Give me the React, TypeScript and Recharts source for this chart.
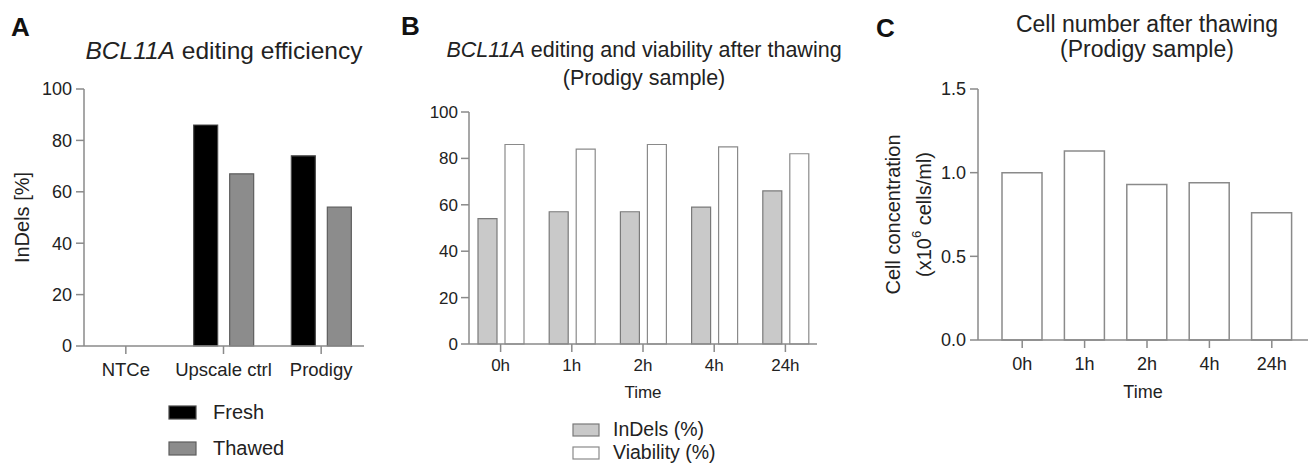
import React from 'react';
import { BarChart, Bar, XAxis, YAxis, Label } from 'recharts';

const FONT = '"Liberation Sans", Arial, Helvetica, sans-serif';
const TEXT = '#222';
const AXIS = '#8a8a8a';

// Panel A: editing efficiency
const editGroups = ['NTCe', 'Upscale ctrl', 'Prodigy'];
const freshIndels = [null, 86, 74];
const thawedIndels = [null, 67, 54];
const percentTicks = [0, 20, 40, 60, 80, 100];

// Panel B: editing + viability after thawing
const thawTimes = ['0h', '1h', '2h', '4h', '24h'];
const prodigyIndels = [54, 57, 57, 59, 66];
const prodigyViability = [86, 84, 86, 85, 82];

// Panel C: cell concentration after thawing
const cellConc = [1.0, 1.13, 0.93, 0.94, 0.76];
const concTicks = [0, 0.5, 1.0, 1.5];

const seriesA = [
  { key: 'fresh', name: 'Fresh', fill: '#000000', stroke: '#4a4a4a' },
  { key: 'thawed', name: 'Thawed', fill: '#8c8c8c', stroke: '#5e5e5e' },
];
const seriesB = [
  { key: 'indels', name: 'InDels (%)', fill: '#c9c9c9', stroke: '#7a7a7a' },
  { key: 'viability', name: 'Viability (%)', fill: '#ffffff', stroke: '#8a8a8a' },
];

const dataA = editGroups.map((group, i) => ({ group, fresh: freshIndels[i], thawed: thawedIndels[i] }));
const dataB = thawTimes.map((time, i) => ({ time, indels: prodigyIndels[i], viability: prodigyViability[i] }));
const dataC = thawTimes.map((time, i) => ({ time, conc: cellConc[i] }));

const axisProps = {
  axisLine: { stroke: AXIS, strokeWidth: 1.5 },
  tickLine: { stroke: AXIS, strokeWidth: 1.5 },
  tickSize: 8,
};

function YTitle(props: any) {
  const { viewBox, lines, offsets, fontSize } = props;
  const cy = viewBox.y + viewBox.height / 2;
  return (
    <g>
      {lines.map((line: React.ReactNode, i: number) => {
        const x = viewBox.x + offsets[i];
        return (
          <text
            key={i}
            x={x}
            y={cy}
            transform={`rotate(-90, ${x}, ${cy})`}
            textAnchor="middle"
            dominantBaseline="central"
            fill={TEXT}
            fontSize={fontSize}
            fontFamily={FONT}
          >
            {line}
          </text>
        );
      })}
    </g>
  );
}

function SwatchLegend({ items, left, top, rowHeight, fontSize, w, h, gap }: any) {
  return (
    <div style={{ position: 'absolute', left, top }}>
      {items.map((s: any) => (
        <div key={s.key} style={{ display: 'flex', alignItems: 'center', height: rowHeight }}>
          <svg width={w + 2} height={h + 2} style={{ display: 'block' }}>
            <rect x={1} y={1} width={w} height={h} fill={s.fill} stroke={s.stroke} strokeWidth={1.2} />
          </svg>
          <span style={{ marginLeft: gap, fontSize, color: TEXT, lineHeight: 1 }}>{s.name}</span>
        </div>
      ))}
    </div>
  );
}

function Title({ children, left, top, width, fontSize, lineHeight, bold }: any) {
  return (
    <div
      style={{
        position: 'absolute',
        left,
        top,
        width,
        textAlign: width ? 'center' : 'left',
        fontSize,
        lineHeight: `${lineHeight}px`,
        color: bold ? '#111' : TEXT,
        fontWeight: bold ? 700 : 400,
        whiteSpace: 'nowrap',
      }}
    >
      {children}
    </div>
  );
}

export default function App() {
  return (
    <div
      style={{
        position: 'absolute',
        left: 0,
        top: 0,
        width: 1310,
        height: 470,
        background: '#fff',
        fontFamily: FONT,
        overflow: 'hidden',
      }}
    >
      {/* Panel A */}
      <div style={{ position: 'absolute', left: 0, top: 0 }}>
        <BarChart width={380} height={470} data={dataA} margin={{ top: 89, right: 16, bottom: 94, left: 0 }} barSize={24} barGap={12}>
          <XAxis
            dataKey="group"
            {...axisProps}
            tickMargin={9}
            height={30}
            interval={0}
            padding={{ left: -7, right: -6 }}
            tick={{ fill: TEXT, fontSize: 18.5, fontFamily: FONT }}
          />
          <YAxis
            domain={[0, 100]}
            ticks={percentTicks}
            width={84}
            {...axisProps}
            tickMargin={4}
            tick={{ fill: TEXT, fontSize: 18, fontFamily: FONT }}
          >
            <Label content={(p: any) => <YTitle {...p} lines={['InDels [%]']} offsets={[22]} fontSize={20} />} />
          </YAxis>
          {seriesA.map((s) => (
            <Bar key={s.key} dataKey={s.key} name={s.name} fill={s.fill} stroke={s.stroke} strokeWidth={1.2} isAnimationActive={false} />
          ))}
        </BarChart>
      </div>
      <Title left={11} top={14} fontSize={26} lineHeight={26} bold>A</Title>
      <Title left={24} top={38.5} width={400} fontSize={24.5} lineHeight={24.5}>
        <i>BCL11A</i> editing efficiency
      </Title>
      <SwatchLegend items={seriesA} left={168} top={394} rowHeight={36} fontSize={20} w={27} h={13} gap={16} />

      {/* Panel B */}
      <div style={{ position: 'absolute', left: 400, top: 0 }}>
        <BarChart width={430} height={470} data={dataB} margin={{ top: 112, right: 13, bottom: 96, left: 0 }} barSize={19} barGap={8}>
          <XAxis
            dataKey="time"
            {...axisProps}
            tickMargin={7}
            height={30}
            interval={0}
            padding={{ left: -4, right: -4 }}
            tick={{ fill: TEXT, fontSize: 17, fontFamily: FONT }}
          >
            <Label value="Time" position="bottom" offset={12} fill={TEXT} fontSize={17} fontFamily={FONT} />
          </XAxis>
          <YAxis
            domain={[0, 100]}
            ticks={percentTicks}
            width={69}
            {...axisProps}
            tickMargin={3}
            tick={{ fill: TEXT, fontSize: 17, fontFamily: FONT }}
          />
          {seriesB.map((s) => (
            <Bar key={s.key} dataKey={s.key} name={s.name} fill={s.fill} stroke={s.stroke} strokeWidth={1.2} isAnimationActive={false} />
          ))}
        </BarChart>
      </div>
      <Title left={401} top={13} fontSize={26} lineHeight={26} bold>B</Title>
      <Title left={444} top={35.5} width={400} fontSize={21.5} lineHeight={28}>
        <i>BCL11A</i> editing and viability after thawing
        <br />
        (Prodigy sample)
      </Title>
      <SwatchLegend items={seriesB} left={572} top={418} rowHeight={23} fontSize={19.5} w={26} h={12} gap={13} />

      {/* Panel C */}
      <div style={{ position: 'absolute', left: 860, top: 0 }}>
        <BarChart width={450} height={470} data={dataC} margin={{ top: 89, right: 2, bottom: 100, left: 0 }} barSize={40}>
          <XAxis
            dataKey="time"
            {...axisProps}
            tickMargin={9}
            height={30}
            interval={0}
            padding={{ left: 13, right: 5 }}
            tick={{ fill: TEXT, fontSize: 18, fontFamily: FONT }}
          >
            <Label value="Time" position="bottom" offset={15} fill={TEXT} fontSize={18} fontFamily={FONT} />
          </XAxis>
          <YAxis
            domain={[0, 1.5]}
            ticks={concTicks}
            width={118}
            {...axisProps}
            tickMargin={4}
            tickFormatter={(v: number) => v.toFixed(1)}
            tick={{ fill: TEXT, fontSize: 18, fontFamily: FONT }}
          >
            <Label
              content={(p: any) => (
                <YTitle
                  {...p}
                  lines={[
                    'Cell concentration',
                    <>
                      <tspan>(x10</tspan>
                      <tspan dy={-8} fontSize={13}>6</tspan>
                      <tspan dy={8}> cells/ml)</tspan>
                    </>,
                  ]}
                  offsets={[33, 64]}
                  fontSize={20}
                />
              )}
            />
          </YAxis>
          <Bar dataKey="conc" name="Cell concentration" fill="#ffffff" stroke="#8a8a8a" strokeWidth={1.5} isAnimationActive={false} />
        </BarChart>
      </div>
      <Title left={876} top={15} fontSize={26} lineHeight={26} bold>C</Title>
      <Title left={947} top={11.5} width={400} fontSize={23} lineHeight={25}>
        Cell number after thawing
        <br />
        (Prodigy sample)
      </Title>
    </div>
  );
}
